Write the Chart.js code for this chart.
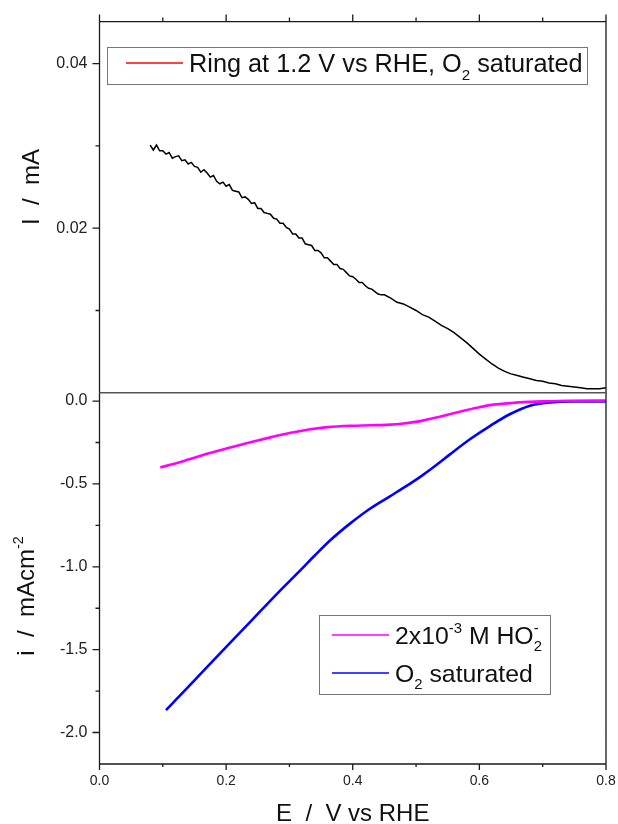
<!DOCTYPE html>
<html>
<head>
<meta charset="utf-8">
<title>RRDE ring and disk currents</title>
<script src="https://cdn.jsdelivr.net/npm/chart.js@4.4.1/dist/chart.umd.min.js"></script>
<style>
  html, body { margin: 0; padding: 0; background: #fff; }
  canvas { display: block; }
</style>
</head>
<body>
<canvas id="rrde-chart" width="618" height="824"></canvas>
<script>
// Ring current at 1.2 V vs RHE (upper panel), mA
const ringE = [
  0.080, 0.085, 0.090, 0.095, 0.100, 0.105, 0.110, 0.115, 0.120, 0.125,
  0.130, 0.135, 0.140, 0.145, 0.150, 0.155, 0.160, 0.165, 0.170, 0.175,
  0.180, 0.185, 0.190, 0.195, 0.200, 0.205, 0.210, 0.215, 0.220, 0.225,
  0.230, 0.235, 0.240, 0.245, 0.250, 0.255, 0.260, 0.265, 0.270, 0.275,
  0.280, 0.285, 0.290, 0.295, 0.300, 0.305, 0.310, 0.315, 0.320, 0.325,
  0.330, 0.335, 0.340, 0.345, 0.350, 0.355, 0.360, 0.365, 0.370, 0.375,
  0.380, 0.385, 0.390, 0.395, 0.400, 0.405, 0.410, 0.415, 0.420, 0.425,
  0.430, 0.435, 0.440, 0.445, 0.450,
  0.46, 0.47, 0.48, 0.49, 0.50, 0.51, 0.52, 0.53, 0.54, 0.55,
  0.56, 0.57, 0.58, 0.59, 0.60, 0.61, 0.62, 0.63, 0.64, 0.65,
  0.66, 0.67, 0.68, 0.69, 0.70, 0.71, 0.72, 0.73, 0.74, 0.75,
  0.76, 0.77, 0.78, 0.79, 0.80
];
const ringI = [
  0.0301, 0.0295, 0.0301, 0.0294, 0.0294, 0.0290, 0.0292, 0.0285, 0.0287, 0.0288,
  0.0282, 0.0283, 0.0278, 0.0280, 0.0275, 0.0274, 0.0268, 0.0271, 0.0267, 0.0262,
  0.0264, 0.0257, 0.0254, 0.0256, 0.0251, 0.0253, 0.0246, 0.0245, 0.0244, 0.0237,
  0.0238, 0.0235, 0.0230, 0.0231, 0.0224, 0.0224, 0.0219, 0.0218, 0.0217, 0.0212,
  0.0211, 0.0206, 0.0206, 0.0201, 0.0199, 0.0193, 0.0193, 0.0188, 0.0188, 0.0181,
  0.0180, 0.0179, 0.0173, 0.0173, 0.0170, 0.0164, 0.0164, 0.0160, 0.0156, 0.0156,
  0.0151, 0.0150, 0.0146, 0.0142, 0.0141, 0.0138, 0.0134, 0.0134, 0.0130, 0.0127,
  0.0126, 0.0123, 0.0120, 0.0119, 0.0119,
  0.0115, 0.0110, 0.0108, 0.0104, 0.0100, 0.0095, 0.0092, 0.0087, 0.0082, 0.0078,
  0.0073, 0.0067, 0.0061, 0.0054, 0.0047, 0.0041, 0.0035, 0.0030, 0.0026, 0.0023,
  0.0021, 0.0019, 0.0017, 0.0015, 0.0014, 0.0012, 0.0011, 0.0009, 0.0008, 0.0007,
  0.0006, 0.0005, 0.0005, 0.0005, 0.0006
];

// Disk current density, 2x10^-3 M HO2- (lower panel), mA cm^-2
const ho2E = [0.096, 0.12, 0.143, 0.17, 0.2065, 0.24, 0.27, 0.30, 0.333, 0.36,
  0.396, 0.43, 0.459, 0.48, 0.507, 0.53, 0.554, 0.58, 0.60, 0.62, 0.649, 0.68, 0.70, 0.74, 0.80];
const ho2I = [-0.400, -0.377, -0.350, -0.318, -0.280, -0.247, -0.219, -0.193, -0.170, -0.157,
  -0.149, -0.146, -0.142, -0.135, -0.121, -0.101, -0.078, -0.054, -0.037, -0.023, -0.012, -0.005, -0.002, 0.002, 0.003];

// Disk current density, O2 saturated (lower panel), mA cm^-2
const o2E = [0.105, 0.12, 0.15, 0.1923, 0.24, 0.2803, 0.3171, 0.34, 0.3645, 0.3961,
  0.4277, 0.4593, 0.48, 0.5066, 0.53, 0.554, 0.5856, 0.6172, 0.6488, 0.68, 0.712, 0.744, 0.80];
const o2I = [-1.865, -1.805, -1.685, -1.515, -1.325, -1.163, -1.022, -0.932, -0.840, -0.738,
  -0.648, -0.573, -0.524, -0.457, -0.392, -0.320, -0.229, -0.149, -0.078, -0.028, -0.008, -0.002, -0.002];

// Axis ticks
const eTicks = [0, 0.2, 0.4, 0.6, 0.8];
const eLabels = ['0.0', '0.2', '0.4', '0.6', '0.8'];
const eMinorTicks = [0.1, 0.3, 0.5, 0.7];
const ringTicks = [0.02, 0.04];
const ringLabels = ['0.02', '0.04'];
const ringMinorTicks = [0.01, 0.03];
const diskTicks = [-2.0, -1.5, -1.0, -0.5, 0.0];
const diskLabels = ['-2.0', '-1.5', '-1.0', '-0.5', '0.0'];
const diskMinorTicks = [-1.75, -1.25, -0.75, -0.25];

const FONT = '"Liberation Sans", Arial, Helvetica, sans-serif';
Chart.defaults.font.family = FONT;

function pairs(xs, ys) {
  return xs.map((x, i) => ({ x: x, y: ys[i] }));
}

// Text with sub/superscripts: parts are {t}, {sub}, {sup} or {sub, sup} stacked
function drawRich(ctx, parts, x, y, size, align) {
  const small = size * 0.6;
  const widths = parts.map(p => {
    if (p.t !== undefined) {
      ctx.font = size + 'px ' + FONT;
      return ctx.measureText(p.t).width;
    }
    ctx.font = small + 'px ' + FONT;
    return Math.max(p.sub ? ctx.measureText(p.sub).width : 0, p.sup ? ctx.measureText(p.sup).width : 0);
  });
  const total = widths.reduce((s, w) => s + w, 0);
  let cx = align === 'center' ? x - total / 2 : x;
  ctx.textAlign = 'left';
  ctx.textBaseline = 'alphabetic';
  parts.forEach((p, i) => {
    if (p.t !== undefined) {
      ctx.font = size + 'px ' + FONT;
      ctx.fillText(p.t, cx, y);
    } else {
      ctx.font = small + 'px ' + FONT;
      if (p.sub) ctx.fillText(p.sub, cx, y + size * 0.3);
      if (p.sup) ctx.fillText(p.sup, cx, y - size * 0.46);
    }
    cx += widths[i];
  });
}

function legendBox(ctx, box, rows) {
  ctx.save();
  ctx.fillStyle = '#fff';
  ctx.fillRect(box.left, box.top, box.right - box.left, box.bottom - box.top);
  ctx.strokeStyle = '#777';
  ctx.lineWidth = 1;
  ctx.strokeRect(box.left + 0.5, box.top + 0.5, box.right - box.left - 1, box.bottom - box.top - 1);
  rows.forEach(r => {
    ctx.strokeStyle = r.color;
    ctx.lineWidth = 1.5;
    ctx.beginPath();
    ctx.moveTo(box.lineFrom, r.y);
    ctx.lineTo(box.lineTo, r.y);
    ctx.stroke();
    ctx.fillStyle = '#111';
    drawRich(ctx, r.parts, box.textX, r.y + 9, box.size, 'left');
  });
  ctx.restore();
}

// Frame with outside ticks, panel divider, titles and legends
const framePlugin = {
  id: 'frame',
  afterDatasetsDraw(chart) {
    const { ctx, chartArea: a, scales } = chart;
    const xs = scales.x, yr = scales.yRing, yd = scales.yDisk;
    const L = a.left, R = a.right, T = a.top, B = a.bottom, M = yr.bottom;
    const major = 7, minor = 4;

    ctx.save();
    ctx.strokeStyle = '#1a1a1a';
    ctx.lineWidth = 1.3;
    ctx.beginPath();
    ctx.moveTo(L, T); ctx.lineTo(L, B);
    ctx.moveTo(L, T); ctx.lineTo(R, T);
    ctx.moveTo(R, T); ctx.lineTo(R, B);
    ctx.moveTo(L, B); ctx.lineTo(R, B);

    const xTick = (v, len) => {
      const p = xs.getPixelForValue(v);
      ctx.moveTo(p, T); ctx.lineTo(p, T - len);
      ctx.moveTo(p, B); ctx.lineTo(p, B + len - 1);
    };
    eTicks.forEach(v => xTick(v, major));
    eMinorTicks.forEach(v => xTick(v, minor));

    const yTick = (scale, v, len) => {
      const p = scale.getPixelForValue(v);
      ctx.moveTo(L, p); ctx.lineTo(L - len, p);
    };
    ringTicks.forEach(v => yTick(yr, v, major));
    ringMinorTicks.forEach(v => yTick(yr, v, minor));
    diskTicks.forEach(v => yTick(yd, v, major));
    diskMinorTicks.forEach(v => yTick(yd, v, minor));
    ctx.stroke();

    // divider between ring and disk panels
    ctx.strokeStyle = '#555555';
    ctx.lineWidth = 1.6;
    ctx.beginPath();
    ctx.moveTo(L, M); ctx.lineTo(R, M);
    ctx.stroke();

    // axis titles
    ctx.fillStyle = '#111';
    drawRich(ctx, [{ t: 'E  /  V vs RHE' }], (L + R) / 2, 821, 24, 'center');

    ctx.save();
    ctx.translate(39, 187);
    ctx.rotate(-Math.PI / 2);
    drawRich(ctx, [{ t: 'I  /  mA' }], 0, 0, 24, 'center');
    ctx.restore();

    ctx.save();
    ctx.translate(34, 596);
    ctx.rotate(-Math.PI / 2);
    drawRich(ctx, [{ t: 'i  /  mAcm' }, { sup: '-2' }], 0, 0, 24, 'center');
    ctx.restore();

    // legends
    legendBox(ctx, { left: 107, top: 47, right: 588, bottom: 85, lineFrom: 126, lineTo: 183, textX: 189, size: 25.3 }, [
      { color: '#ff0000', y: 63, parts: [{ t: 'Ring at 1.2 V vs RHE, O' }, { sub: '2' }, { t: ' saturated' }] }
    ]);
    legendBox(ctx, { left: 319, top: 615, right: 551, bottom: 695, lineFrom: 332, lineTo: 389, textX: 395, size: 24.8 }, [
      { color: '#ff00ff', y: 635, parts: [{ t: '2x10' }, { sup: '-3' }, { t: ' M HO' }, { sub: '2', sup: '-' }] },
      { color: '#0000ff', y: 673, parts: [{ t: 'O' }, { sub: '2' }, { t: ' saturated' }] }
    ]);
    ctx.restore();
  }
};

const hidden = { display: false, drawTicks: false };

new Chart(document.getElementById('rrde-chart'), {
  type: 'line',
  data: {
    datasets: [
      {
        label: 'Ring at 1.2 V vs RHE, O2 saturated',
        data: pairs(ringE, ringI),
        xAxisID: 'x',
        yAxisID: 'yRing',
        borderColor: '#000000',
        borderWidth: 1.5,
        pointRadius: 0,
        tension: 0
      },
      {
        label: '2x10-3 M HO2-',
        data: pairs(ho2E, ho2I),
        xAxisID: 'x',
        yAxisID: 'yDisk',
        borderColor: '#ff00ff',
        borderWidth: 2.6,
        pointRadius: 0,
        cubicInterpolationMode: 'monotone'
      },
      {
        label: 'O2 saturated',
        data: pairs(o2E, o2I),
        xAxisID: 'x',
        yAxisID: 'yDisk',
        borderColor: '#0000ff',
        borderWidth: 2.6,
        pointRadius: 0,
        cubicInterpolationMode: 'monotone'
      }
    ]
  },
  options: {
    responsive: false,
    animation: false,
    devicePixelRatio: 1,
    layout: { padding: { left: 0, right: 12, top: 0, bottom: 0 } },
    plugins: {
      legend: { display: false },
      tooltip: { enabled: false }
    },
    scales: {
      x: {
        type: 'linear',
        position: 'bottom',
        min: 0,
        max: 0.8,
        grid: hidden,
        border: { display: false },
        afterBuildTicks: s => { s.ticks = eTicks.map(v => ({ value: v })); },
        afterFit: s => { s.height = 60; s.paddingLeft = 0; s.paddingRight = 0; },
        ticks: {
          padding: 9,
          color: '#222',
          font: { size: 14 },
          maxRotation: 0,
          autoSkip: false,
          callback: (v, i) => eLabels[i]
        }
      },
      xTop: {
        type: 'linear',
        position: 'top',
        min: 0,
        max: 0.8,
        grid: hidden,
        border: { display: false },
        ticks: { display: false },
        afterFit: s => { s.height = 20; s.paddingLeft = 0; s.paddingRight = 0; }
      },
      yDisk: {
        type: 'linear',
        position: 'left',
        stack: 'panels',
        stackWeight: 1,
        min: -2.19,
        max: 0.05,
        grid: hidden,
        border: { display: false },
        afterBuildTicks: s => { s.ticks = diskTicks.map(v => ({ value: v })); },
        afterFit: s => { s.width = 99.5; },
        ticks: {
          padding: 12,
          color: '#222',
          font: { size: 16 },
          autoSkip: false,
          callback: (v, i) => diskLabels[i]
        }
      },
      yRing: {
        type: 'linear',
        position: 'left',
        stack: 'panels',
        stackWeight: 1,
        min: 0,
        max: 0.0451,
        grid: hidden,
        border: { display: false },
        afterBuildTicks: s => { s.ticks = ringTicks.map(v => ({ value: v })); },
        afterFit: s => { s.width = 99.5; },
        ticks: {
          padding: 12,
          color: '#222',
          font: { size: 16 },
          autoSkip: false,
          callback: (v, i) => ringLabels[i]
        }
      }
    }
  },
  plugins: [framePlugin]
});
</script>
</body>
</html>
